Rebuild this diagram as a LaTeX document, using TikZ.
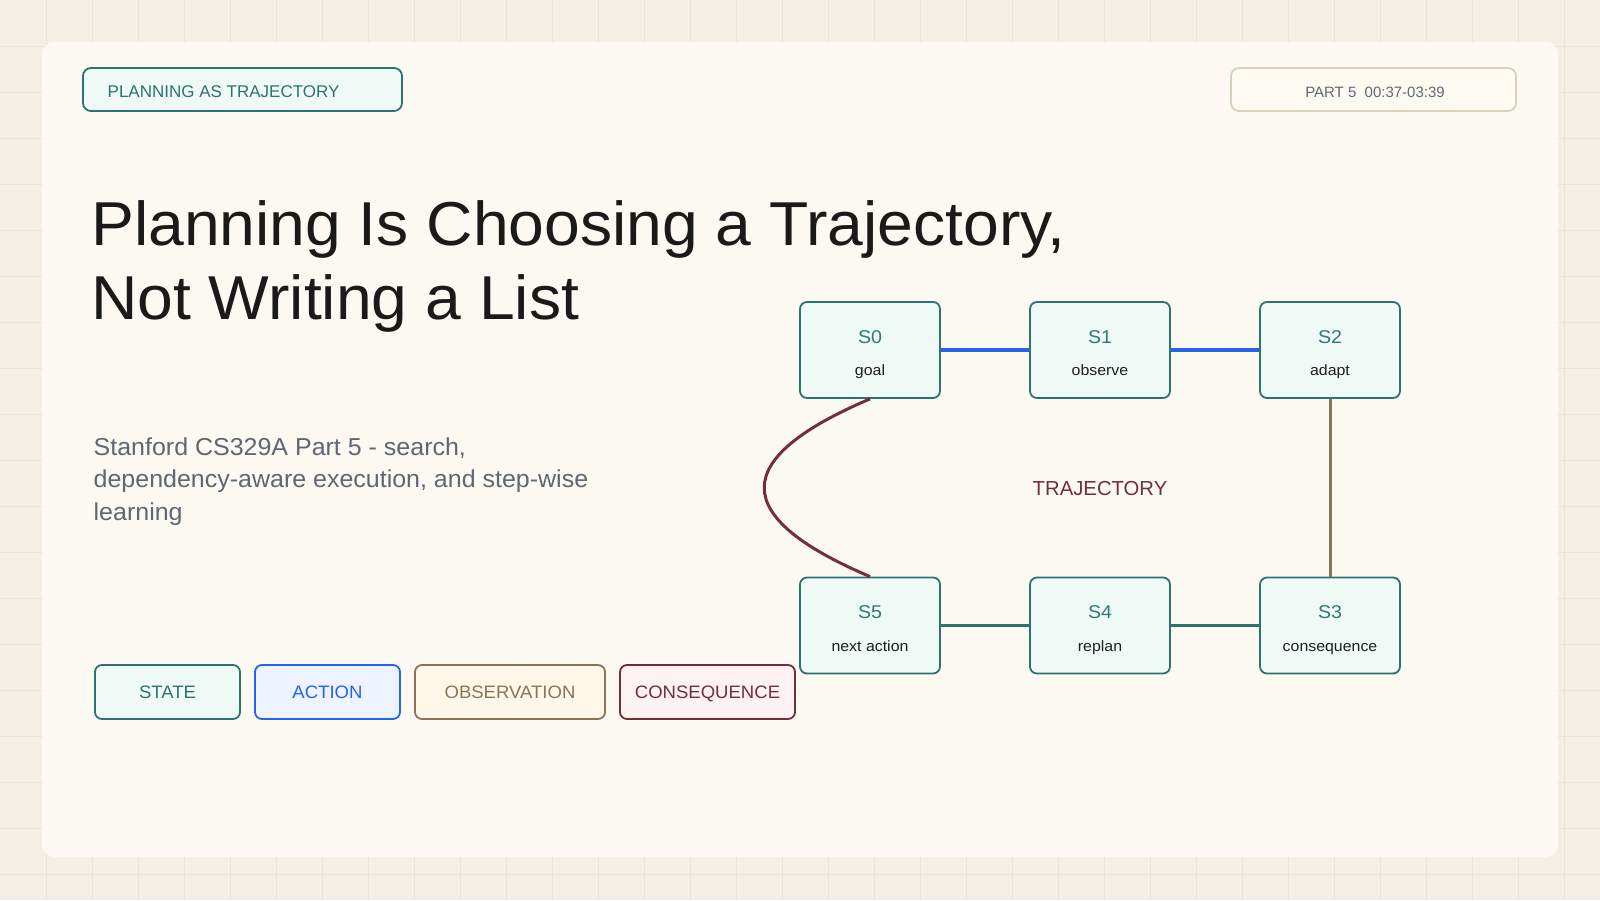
\documentclass[tikz,border=0pt]{standalone}
\usepackage{fontspec}
\setmainfont{Liberation Sans}
\newfontfamily\titlefont{Liberation Sans}[FakeStretch=1.036]
\newfontfamily\subfont{Liberation Sans}[FakeStretch=1.02]
\newfontfamily\smallfont{Liberation Sans}[FakeStretch=1.06]
\newfontfamily\legfont{Liberation Sans}[FakeStretch=1.03]
\usetikzlibrary{calc}
\definecolor{bgc}{HTML}{F3EFE4}
\definecolor{gridc}{HTML}{E8E3D6}
\definecolor{panelc}{HTML}{FEFBF4}
\definecolor{teal1}{HTML}{2E736F}
\definecolor{tealtext}{HTML}{2E7A75}
\definecolor{tealfill}{HTML}{EFF9F6}
\definecolor{blue1}{HTML}{2563EB}
\definecolor{bluefill}{HTML}{EEF4FF}
\definecolor{brown1}{HTML}{8B7355}
\definecolor{brownfill}{HTML}{FFF8E8}
\definecolor{maroon1}{HTML}{722F37}
\definecolor{maroonfill}{HTML}{FFF2F2}
\definecolor{titlec}{HTML}{1A1A1A}
\definecolor{subc}{HTML}{5F6773}
\definecolor{tagborder}{HTML}{D9D0BC}
\definecolor{tagfill}{HTML}{FDFAF2}
\definecolor{nodetext}{HTML}{1F1F1F}
\newcommand\fsz[2]{\fontsize{#1pt}{#2pt}\selectfont}
\tikzset{
  statebox/.style={draw=teal1, fill=tealfill, line width=1.8pt, rounded corners=7pt,
    minimum width=140pt, minimum height=96pt, inner sep=0pt},
  slabel/.style={anchor=base, inner sep=0pt, text=tealtext, font=\smallfont\fsz{18.5}{22}},
  sublabel/.style={anchor=base, inner sep=0pt, text=nodetext, font=\smallfont\fsz{15}{18}},
  legbox/.style={rounded corners=7pt, line width=1.8pt, minimum height=54pt, inner sep=0pt,
    text height=13pt, text depth=0pt, font=\legfont\fsz{18}{21}},
  tagbox/.style={rounded corners=8pt, line width=1.8pt, inner sep=0pt},
  flowline/.style={line width=3.3pt},
  titletext/.style={anchor=base west, inner sep=0pt, text=titlec, font=\titlefont\fsz{62}{74}},
  subtext/.style={anchor=base west, inner sep=0pt, text=subc, font=\subfont\fsz{24.5}{33}},
}
\begin{document}
\begin{tikzpicture}[x=1pt,y=-1pt]
\useasboundingbox (0,0) rectangle (1600,900);
\fill[bgc] (0,0) rectangle (1600,900);
\foreach \i in {1,...,34} \draw[gridc, line width=1pt] (46*\i,0) -- (46*\i,900);
\foreach \j in {1,...,19} \draw[gridc, line width=1pt] (0,46*\j) -- (1600,46*\j);
% panel
\fill[panelc, fill opacity=0.9, rounded corners=12pt] (42,42) rectangle (1558,857);

% tags
\node[tagbox, draw=teal1, fill=tealfill, minimum width=319pt, minimum height=43pt] (tagL) at (242.5,89.5) {};
\node[anchor=base west, inner sep=0pt, text=teal1, font=\fsz{17}{20}] (tagLtext) at (107.5,97.3) {PLANNING AS TRAJECTORY};
\node[tagbox, draw=tagborder, fill=tagfill, minimum width=285pt, minimum height=43pt] (tagR) at (1373.5,89.5) {};
\node[anchor=base, inner sep=0pt, text=subc, font=\fsz{15}{18}] (tagRtext) at (1375,97.3) {PART 5\ \ 00:37-03:39};

% title
\node[titletext] (title1) at (91,245) {Planning Is Choosing a Trajectory,};
\node[titletext] (title2) at (91,319.3) {Not Writing a List};

% subtitle
\node[subtext] (sub1) at (93.5,455) {Stanford CS329A Part 5 - search,};
\node[subtext] (sub2) at (93.5,487.5) {dependency-aware execution, and step-wise};
\node[subtext] (sub3) at (93.5,520) {learning};

% state nodes
\node[statebox] (s0) at (870,350) {};
\node[statebox] (s1) at (1100,350) {};
\node[statebox] (s2) at (1330,350) {};
\node[statebox] (s3) at (1330,625.5) {};
\node[statebox] (s4) at (1100,625.5) {};
\node[statebox] (s5) at (870,625.5) {};

\foreach \n/\t/\d in {s0/S0/goal, s1/S1/observe, s2/S2/adapt, s3/S3/consequence, s4/S4/replan, s5/S5/next action}{
  \node[slabel] (\n t) at ($(\n.center)+(0,-6.7)$) {\t};
  \node[sublabel] (\n d) at ($(\n.center)+(0,25.5)$) {\d};
}

% connectors
\draw[flowline, blue1] (s0) -- (s1);
\draw[flowline, blue1] (s1) -- (s2);
\draw[line width=3pt, brown1] (s2) -- (s3);
\draw[flowline, teal1] (s3) -- (s4);
\draw[flowline, teal1] (s4) -- (s5);
\draw[line width=3pt, maroon1] (s0.south) .. controls ($(s0.south)+(-141,60)$) and ($(s5.north)+(-141,-60)$) .. (s5.north);

\node[anchor=base, inner sep=0pt, text=maroon1, font=\fsz{20.3}{24}] (traj) at (1100,495.3) {TRAJECTORY};

% legend
\node[legbox, draw=teal1, fill=tealfill, text=teal1, minimum width=145pt] (lstate) at (167.5,692) {STATE};
\node[legbox, draw=blue1, fill=bluefill, text=blue1, minimum width=145pt] (laction) at (327.5,692) {ACTION};
\node[legbox, draw=brown1, fill=brownfill, text=brown1, minimum width=190pt] (lobs) at (510,692) {OBSERVATION};
\node[legbox, draw=maroon1, fill=maroonfill, text=maroon1, minimum width=175pt] (lcons) at (707.5,692) {CONSEQUENCE};
\end{tikzpicture}
\end{document}
